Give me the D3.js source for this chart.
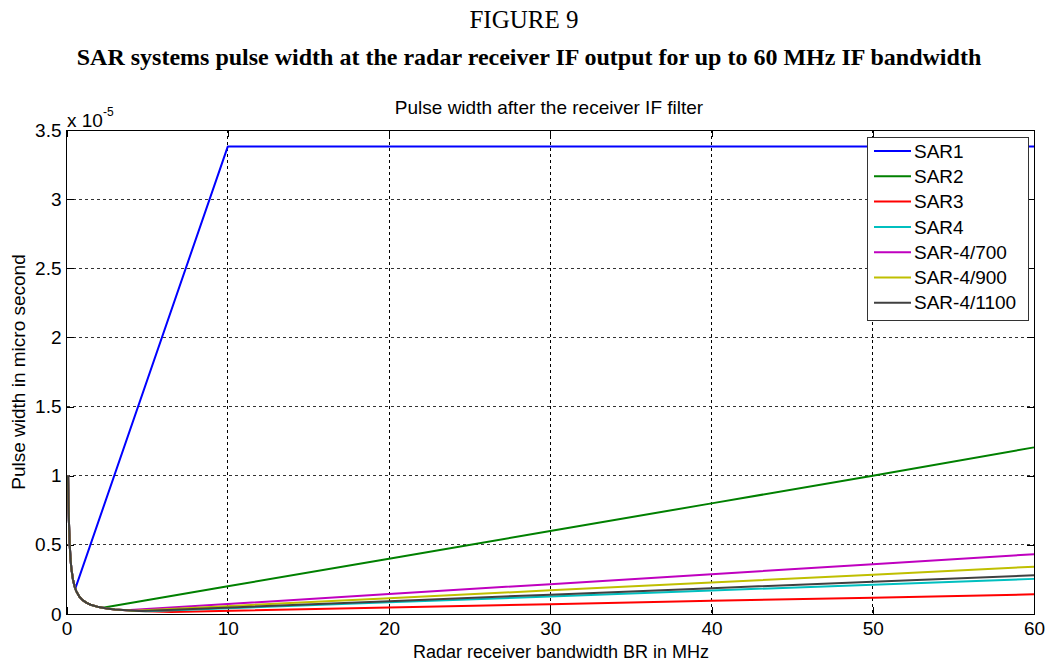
<!DOCTYPE html>
<html>
<head>
<meta charset="utf-8">
<script src="https://cdn.jsdelivr.net/npm/d3@7/dist/d3.min.js"></script>
<style>
	body { margin: 0; background: #fff; }
	svg { display: block; }
	.tick text { font-family: Arial, "Liberation Sans", sans-serif; }
</style>
</head>
<body>
<div id="chart"></div>
<script>
// ---- data (pulse width in units of 1e-5 s, bandwidth in MHz) ---- //

var bwCurve = [0.1, 0.12, 0.15, 0.2, 0.25, 0.3, 0.4, 0.5, 0.6, 0.8, 1, 1.25, 1.5, 2, 2.5, 3, 3.5, 4, 4.5, 5, 6];
var pwCurve = [1.0, 0.83, 0.67, 0.5, 0.4, 0.33, 0.25, 0.2, 0.167, 0.125, 0.1, 0.08, 0.067, 0.05, 0.04, 0.033, 0.029, 0.025, 0.022, 0.02, 0.017];

var seriesNames = ["SAR1", "SAR2", "SAR3", "SAR4", "SAR-4/700", "SAR-4/900", "SAR-4/1100"];
var seriesColors = ["#0000ff", "#008000", "#ff0000", "#00bfbf", "#bf00bf", "#bfbf00", "#404040"];

// where each series leaves the 1/B curve, then its ramp
var sar1Bw = [0.55, 10, 60];
var sar1Pw = [0.185, 3.38, 3.38];
var sar2Bw = [2.25, 10, 20, 30, 40, 50, 60];
var sar2Pw = [0.045, 0.2, 0.4, 0.6, 0.8, 1.0, 1.205];
var sar3Bw = [6.5, 20, 30, 40, 50, 60];
var sar3Pw = [0.015, 0.047, 0.071, 0.095, 0.118, 0.142];
var sar4Bw = [4.9, 20, 30, 40, 50, 60];
var sar4Pw = [0.02, 0.085, 0.127, 0.17, 0.212, 0.254];
var sar4700Bw = [3.7, 20, 30, 40, 50, 60];
var sar4700Pw = [0.027, 0.144, 0.216, 0.288, 0.36, 0.432];
var sar4900Bw = [4.2, 20, 30, 40, 50, 60];
var sar4900Pw = [0.024, 0.114, 0.171, 0.228, 0.284, 0.342];
var sar41100Bw = [4.7, 20, 30, 40, 50, 60];
var sar41100Pw = [0.021, 0.093, 0.14, 0.187, 0.233, 0.28];

var rampBw = [sar1Bw, sar2Bw, sar3Bw, sar4Bw, sar4700Bw, sar4900Bw, sar41100Bw];
var rampPw = [sar1Pw, sar2Pw, sar3Pw, sar4Pw, sar4700Pw, sar4900Pw, sar41100Pw];

var xTicks = [0, 10, 20, 30, 40, 50, 60];
var yTicks = [0, 0.5, 1, 1.5, 2, 2.5, 3, 3.5];

// ---- build the points of each series ---- //
var series = seriesNames.map(function(name, i){
	var pts = [];
	// 1/B part until the ramp starts
	bwCurve.forEach(function(b, j){
		if (b < rampBw[i][0]) pts.push({bw: b, pw: pwCurve[j]});
	});
	rampBw[i].forEach(function(b, j){
		pts.push({bw: b, pw: rampPw[i][j]});
	});
	return {name: name, color: seriesColors[i], values: pts};
});

// ---- layout ---- //
var W = 1047, H = 662;
var margin = {top: 130, right: 13, bottom: 48, left: 66.5};
var width = W - margin.left - margin.right;
var height = H - margin.top - margin.bottom;

var svg = d3.select("#chart").append("svg")
		.attr("width", W)
		.attr("height", H);

var sans = "Arial, 'Liberation Sans', sans-serif";
var serif = "'Times New Roman', 'Liberation Serif', serif";

// figure headings
svg.append("text")
	.attr("x", 524).attr("y", 28)
	.attr("text-anchor", "middle")
	.style("font-family", serif).style("font-size", "25px")
	.text("FIGURE 9");

svg.append("text")
	.attr("x", 529).attr("y", 65)
	.attr("text-anchor", "middle")
	.style("font-family", serif).style("font-size", "24px").style("font-weight", "bold")
	.text("SAR systems pulse width at the radar receiver IF output for up to 60 MHz IF bandwidth");

var g = svg.append("g")
		.attr("transform", "translate(" + margin.left + "," + margin.top + ")");

var x = d3.scaleLinear().domain([0, 60]).range([0, width]);
var y = d3.scaleLinear().domain([0, 3.5]).range([height, 0]);

// grid (dotted)
g.append("g").selectAll("line")
	.data(xTicks.slice(1, -1))
	.enter().append("line")
		.attr("x1", function(d){ return x(d); })
		.attr("x2", function(d){ return x(d); })
		.attr("y1", 0).attr("y2", height)
		.attr("stroke", "#000").attr("stroke-width", 1)
		.attr("stroke-dasharray", "3,3")
		.attr("shape-rendering", "crispEdges");

g.append("g").selectAll("line")
	.data(yTicks.slice(1, -1))
	.enter().append("line")
		.attr("y1", function(d){ return y(d); })
		.attr("y2", function(d){ return y(d); })
		.attr("x1", 0).attr("x2", width)
		.attr("stroke", "#333").attr("stroke-width", 1)
		.attr("stroke-dasharray", "3,3")
		.attr("shape-rendering", "crispEdges");

// axes, ticks point inward (MATLAB style)
var xAxis = d3.axisBottom(x).tickValues(xTicks).tickSizeInner(-7).tickSizeOuter(0).tickPadding(8);
var yAxis = d3.axisLeft(y).tickValues(yTicks).tickSizeInner(-7).tickSizeOuter(0).tickPadding(5)
		.tickFormat(function(d){ return d; });

var gx = g.append("g")
		.attr("transform", "translate(0," + height + ")")
		.call(xAxis);
var gy = g.append("g").call(yAxis);

[gx, gy].forEach(function(a){
	a.select(".domain").remove();
	a.selectAll(".tick line").attr("stroke", "#000").attr("shape-rendering", "crispEdges");
	a.selectAll(".tick text").style("font-size", "19px").attr("fill", "#000");
});
gx.selectAll(".tick text").attr("dy", "0.71em");

// top / right ticks
g.append("g").attr("transform", "translate(0,0)")
	.call(d3.axisTop(x).tickValues(xTicks).tickSizeInner(-7).tickSizeOuter(0).tickFormat(""))
	.call(function(a){ a.select(".domain").remove(); a.selectAll("line").attr("shape-rendering", "crispEdges"); });
g.append("g").attr("transform", "translate(" + width + ",0)")
	.call(d3.axisRight(y).tickValues(yTicks).tickSizeInner(-7).tickSizeOuter(0).tickFormat(""))
	.call(function(a){ a.select(".domain").remove(); a.selectAll("line").attr("shape-rendering", "crispEdges"); });

// plot frame
g.append("rect")
	.attr("width", width).attr("height", height)
	.attr("fill", "none").attr("stroke", "#000").attr("stroke-width", 1)
	.attr("shape-rendering", "crispEdges");

// lines
var line = d3.line()
		.x(function(d){ return x(d.bw); })
		.y(function(d){ return y(d.pw); });

g.append("g")
	.selectAll("path")
	.data(series)
	.enter().append("path")
		.attr("fill", "none")
		.attr("stroke", function(d){ return d.color; })
		.attr("stroke-width", 2)
		.attr("stroke-linejoin", "round")
		.attr("d", function(d){ return line(d.values); });

// exponent label
var ex = svg.append("text")
		.attr("x", 67).attr("y", 127)
		.style("font-family", sans).style("font-size", "19px");
ex.append("tspan").text("x 10");
ex.append("tspan").attr("dy", -11).style("font-size", "12px").text("-5");

// chart title
svg.append("text")
	.attr("x", 549).attr("y", 114)
	.attr("text-anchor", "middle")
	.style("font-family", sans).style("font-size", "19px")
	.text("Pulse width after the receiver IF filter");

// axis labels
svg.append("text")
	.attr("x", 561).attr("y", 658)
	.attr("text-anchor", "middle")
	.style("font-family", sans).style("font-size", "18px")
	.text("Radar receiver bandwidth BR in MHz");

svg.append("text")
	.attr("transform", "translate(25," + (margin.top + height / 2) + ") rotate(-90)")
	.attr("text-anchor", "middle")
	.style("font-family", sans).style("font-size", "19px")
	.text("Pulse width in micro second");

// legend
var lx = 867, ly = 137, lw = 161, lh = 183, step = 25.3;
var legend = svg.append("g");
legend.append("rect")
	.attr("x", lx).attr("y", ly).attr("width", lw).attr("height", lh)
	.attr("fill", "#fff").attr("stroke", "#333").attr("stroke-width", 1)
	.attr("shape-rendering", "crispEdges");

var items = legend.selectAll("g.item")
	.data(series)
	.enter().append("g")
		.attr("transform", function(d, i){ return "translate(" + lx + "," + (ly + 14 + i * step) + ")"; });
items.append("line")
	.attr("x1", 7).attr("x2", 44)
	.attr("stroke", function(d){ return d.color; })
	.attr("stroke-width", 2);
items.append("text")
	.attr("x", 47).attr("dy", "0.35em")
	.style("font-family", sans).style("font-size", "19px")
	.text(function(d){ return d.name; });
</script>
</body>
</html>
